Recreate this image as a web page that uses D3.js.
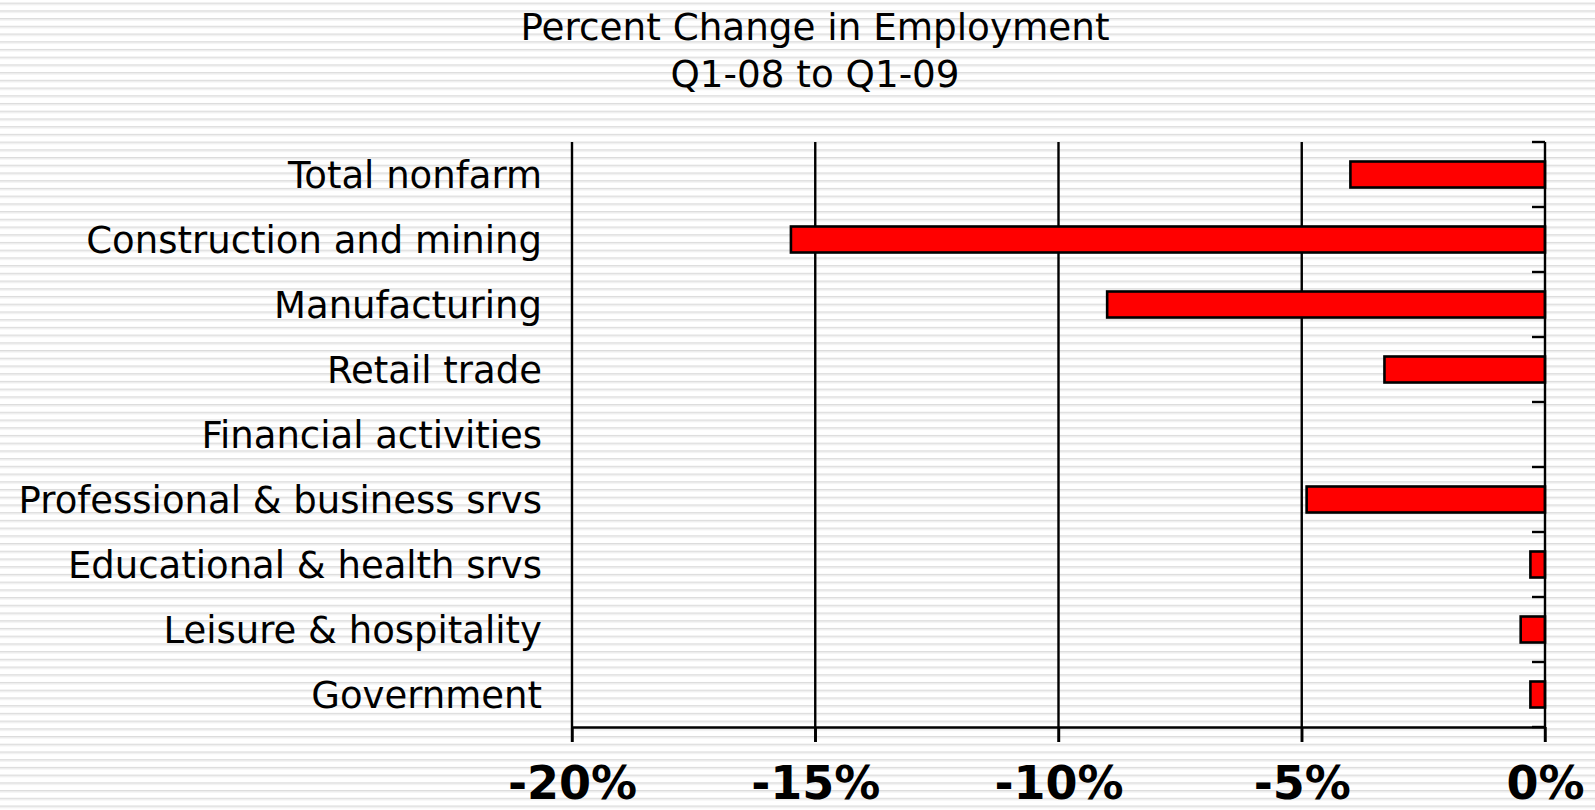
<!DOCTYPE html>
<html>
<head>
<meta charset="utf-8">
<script src="https://cdn.jsdelivr.net/npm/d3@7"></script>
<style>
  html, body { margin: 0; padding: 0; background: #fff; overflow: hidden; }
  svg { display: block; }
  text { font-family: "DejaVu Sans", Verdana, sans-serif; fill: #000; }
</style>
</head>
<body>
<svg id="chart" width="1595" height="810"></svg>
<script>
// Percent change in employment by sector, Q1-08 to Q1-09
const categories = [
  "Total nonfarm",
  "Construction and mining",
  "Manufacturing",
  "Retail trade",
  "Financial activities",
  "Professional & business srvs",
  "Educational & health srvs",
  "Leisure & hospitality",
  "Government"
];
const pctChange = [-4.0, -15.5, -9.0, -3.3, 0.0, -4.9, -0.3, -0.5, -0.3];
const xTicks = [-20, -15, -10, -5, 0];
const titleLines = ["Percent Change in Employment", "Q1-08 to Q1-09"];

const W = 1595, H = 810;
const plot = { left: 572, right: 1545, top: 142, bottom: 727 };
const svg = d3.select("#chart");

// striped backdrop
const defs = svg.append("defs");
const pat = defs.append("pattern")
  .attr("id", "stripes")
  .attr("patternUnits", "userSpaceOnUse")
  .attr("width", 8).attr("height", 7.72)
  .attr("y", 2.6);
pat.append("rect").attr("width", 8).attr("height", 7.72).attr("fill", "#ffffff");
pat.append("rect").attr("y", 0).attr("width", 8).attr("height", 1.2).attr("fill", "#dcdcdc");
pat.append("rect").attr("y", 1.2).attr("width", 8).attr("height", 1.2).attr("fill", "#ebebeb");
svg.append("rect").attr("width", W).attr("height", H).attr("fill", "url(#stripes)");

const x = d3.scaleLinear().domain([-20, 0]).range([plot.left, plot.right]);
const y = d3.scaleBand().domain(categories)
  .range([plot.top, plot.bottom])
  .paddingInner(0.6).paddingOuter(0.3);

const lineW = 2.4;

// vertical gridlines (also the left edge), extending past the bottom axis as ticks
svg.append("g")
  .selectAll("line")
  .data(xTicks.filter(t => t !== 0))
  .join("line")
  .attr("x1", d => x(d)).attr("x2", d => x(d))
  .attr("y1", plot.top).attr("y2", plot.bottom + 15)
  .attr("stroke", "#000").attr("stroke-width", lineW);

// bottom value axis
const xAxis = d3.axisBottom(x)
  .tickValues(xTicks)
  .tickSize(15)
  .tickSizeOuter(0)
  .tickFormat(d => d + "%");
const gx = svg.append("g")
  .attr("transform", `translate(0,${plot.bottom})`)
  .call(xAxis);
gx.select(".domain").attr("stroke", "#000").attr("stroke-width", lineW);
gx.selectAll(".tick line").attr("stroke", "#000").attr("stroke-width", lineW);
gx.selectAll(".tick text")
  .attr("y", 72)
  .attr("dy", 0)
  .style("font-family", '"DejaVu Sans", Verdana, sans-serif')
  .style("font-weight", "bold")
  .style("font-size", "46px")
  .attr("fill", "#000");

// bars
svg.append("g")
  .selectAll("rect")
  .data(categories.map((c, i) => ({ c, v: pctChange[i] })).filter(d => d.v !== 0))
  .join("rect")
  .attr("x", d => x(d.v))
  .attr("y", d => y(d.c))
  .attr("width", d => x(0) - x(d.v))
  .attr("height", y.bandwidth())
  .attr("fill", "#ff0000")
  .attr("stroke", "#000")
  .attr("stroke-width", 2.6);

// category axis at zero, ticks on band boundaries pointing left
const boundaries = categories.map(c => y(c) - y.step() * y.paddingInner() / 2);
boundaries.push(plot.bottom);
svg.append("line")
  .attr("x1", x(0)).attr("x2", x(0))
  .attr("y1", plot.top).attr("y2", plot.bottom + 15)
  .attr("stroke", "#000").attr("stroke-width", lineW);
svg.append("g")
  .selectAll("line")
  .data(boundaries)
  .join("line")
  .attr("x1", x(0) - 13).attr("x2", x(0))
  .attr("y1", d => d).attr("y2", d => d)
  .attr("stroke", "#000").attr("stroke-width", lineW);

// category labels
svg.append("g")
  .selectAll("text")
  .data(categories)
  .join("text")
  .attr("x", 542)
  .attr("y", d => y(d) + y.bandwidth() / 2 + 13.5)
  .attr("text-anchor", "end")
  .style("font-size", "37px")
  .text(d => d);

// title
svg.append("g")
  .selectAll("text")
  .data(titleLines)
  .join("text")
  .attr("x", 815)
  .attr("y", (d, i) => 40 + i * 46.5)
  .attr("text-anchor", "middle")
  .style("font-size", "37.3px")
  .text(d => d);
</script>
</body>
</html>
